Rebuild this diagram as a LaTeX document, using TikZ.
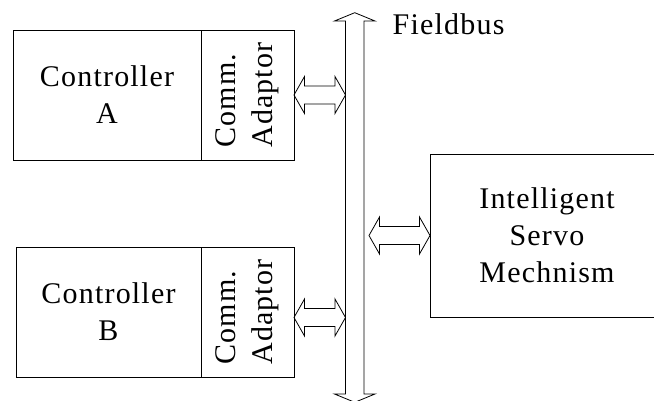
\documentclass[tikz,border=0pt]{standalone}
\usepackage{fontspec}
\setmainfont{Liberation Serif}[LetterSpace=4]
\usetikzlibrary{positioning}
\usetikzlibrary{calc}

\newcommand{\hollowarrow}[2]{%
    \draw[hollow] let \p1=(#1), \p2=(#2) in
        (\x1,\y1) -- ++(10.5,18.5) -- ++(0,-9.5) -- (\x2-10.5pt,\y1+9pt) -- ++(0,9.5)
        -- (\x2,\y1) -- ++(-10.5,-18.5) -- ++(0,9.5) -- (\x1+10.5pt,\y1-9pt) -- ++(0,-9.5) -- cycle;}

\begin{document}
\begin{tikzpicture}[x=1pt, y=1pt, line width=0.8pt,
        txt/.style={font=\fontsize{30}{37}\selectfont},
        box/.style={draw, rectangle, txt, inner sep=0pt, outer sep=0pt, align=center, minimum height=130pt},
        hollow/.style={draw, line width=0.8pt, line join=miter}]
        \useasboundingbox (0,0) rectangle (654,-401);
        \node[box, minimum width=188pt] (ctrlA) at (107,-95) {Controller\\A};
        \node[box, minimum width=93pt, right=0pt of ctrlA] (adaptA) {};
        \node[txt, rotate=90, align=left] (commA) at (adaptA) {Comm.\\Adaptor};
        \node[box, minimum width=185pt] (ctrlB) at (108.5,-312) {Controller\\B};
        \node[box, minimum width=93pt, right=0pt of ctrlB] (adaptB) {};
        \node[txt, rotate=90, align=left] (commB) at (adaptB) {Comm.\\Adaptor};
        \node[box, minimum width=234pt, minimum height=163pt] (servo) at (547,-235.5) {Intelligent\\Servo\\Mechnism};
        % fieldbus
        \draw[hollow] (354.75,-12.7) -- (375,-21) -- (364,-21) -- (364,-394) -- (375,-394) -- (354.75,-402.3)
            -- (334.5,-394) -- (345.5,-394) -- (345.5,-21) -- (334.5,-21) -- cycle;
        \coordinate (busW) at (345.5,-200);
        \coordinate (busE) at (364,-200);
        \node[txt, anchor=base west] (fieldbus) at (389,-35) {Fieldbus};
        % links
        \coordinate (portB) at ($(adaptB.east)+(0,-5.5)$);
        \coordinate (portS) at ($(servo.west -| busE)+(5,0)$);
        \hollowarrow{adaptA.east}{adaptA.east -| busW}
        \hollowarrow{portB}{portB -| busW}
        \hollowarrow{portS}{servo.west}
    \end{tikzpicture}
\end{document}
